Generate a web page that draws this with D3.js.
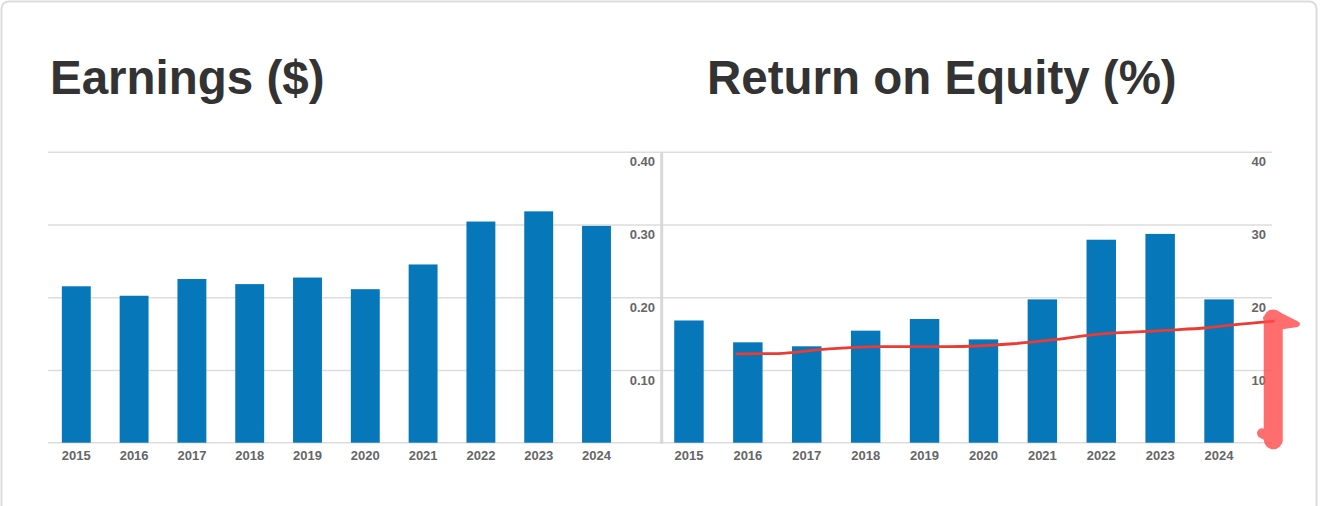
<!DOCTYPE html>
<html>
<head>
<meta charset="utf-8">
<script src="https://cdn.jsdelivr.net/npm/d3@7"></script>
<style>
  body { margin: 0; background: #fff; }
  svg { display: block; font-family: 'Liberation Sans', Arial, sans-serif; }
</style>
</head>
<body>
<svg width="1320" height="506"></svg>
<script>
const years = ['2015', '2016', '2017', '2018', '2019', '2020', '2021', '2022', '2023', '2024'];
const earnings = [0.215, 0.202, 0.225, 0.218, 0.227, 0.211, 0.245, 0.304, 0.318, 0.298];
const roe = [16.8, 13.8, 13.25, 15.4, 17.0, 14.2, 19.7, 27.9, 28.7, 19.7];

const earningsTicks = [0.1, 0.2, 0.3, 0.4];
const roeTicks = [10, 20, 30, 40];

// red trend line drawn over the ROE bars (x in years, y in %)
const trendYears = [2015.81, 2016.51, 2017.22, 2018.24, 2019.38, 2020.5, 2021.24, 2021.92, 2023.11, 2023.79, 2024.24, 2024.92];
const trendValues = [12.2, 12.25, 12.8, 13.2, 13.2, 13.6, 14.2, 14.9, 15.45, 15.8, 16.2, 16.7];

// hand-drawn arrow marker at the right edge
const arrowShaftYears = [2024.92, 2024.92];
const arrowShaftValues = [0.4, 17.0];
const arrowHeadYears = [2024.80, 2024.95, 2025.32, 2024.99, 2024.87];
const arrowHeadValues = [17.1, 17.8, 16.3, 15.9, 16.3];
const arrowFootYears = [2024.73, 2024.99];
const arrowFootValues = [1.3, 0.25];

const svg = d3.select('svg');
const barColor = '#0677b8';
const gridColor = '#dddddd';
const labelColor = '#666666';
const plotTop = 151.7;
const plotBottom = 442.7;

svg.append('rect')
    .attr('x', 1.5)
    .attr('y', 1.5)
    .attr('width', 1315)
    .attr('height', 540)
    .attr('rx', 7)
    .attr('fill', '#fff')
    .attr('stroke', '#dcdcdc')
    .attr('stroke-width', 2);

svg.append('text')
    .attr('x', 50)
    .attr('y', 94)
    .attr('font-size', 47.5)
    .attr('font-weight', 'bold')
    .attr('fill', '#333')
    .text('Earnings ($)');

svg.append('text')
    .attr('x', 707)
    .attr('y', 94)
    .attr('font-size', 47.5)
    .attr('font-weight', 'bold')
    .attr('fill', '#333')
    .text('Return on Equity (%)');

function styleYAxis(g) {
  g.select('.domain').remove();
  g.selectAll('.tick line')
      .attr('stroke', gridColor)
      .attr('stroke-width', 1.5);
  g.selectAll('.tick text')
      .attr('x', -6)
      .attr('dy', '1.1em')
      .attr('text-anchor', 'end')
      .attr('font-size', 13)
      .attr('font-weight', 'bold')
      .attr('fill', labelColor);
}

function styleXAxis(g) {
  g.select('.domain').remove();
  g.selectAll('.tick text')
      .attr('font-size', 13)
      .attr('font-weight', 'bold')
      .attr('fill', labelColor);
}

// left chart
const xL = d3.scaleBand()
    .domain(years)
    .range([47.4, 625.4])
    .paddingInner(0.5)
    .paddingOuter(0.25);
const yL = d3.scaleLinear()
    .domain([0, 0.4])
    .range([plotBottom, plotTop]);

svg.append('g')
    .attr('transform', 'translate(661, 0)')
    .call(d3.axisLeft(yL).tickValues(earningsTicks).tickSize(613).tickFormat(d3.format('.2f')))
    .call(styleYAxis);

// right chart
const xR = d3.scaleBand()
    .domain(years)
    .range([659.5, 1248.5])
    .paddingInner(0.5)
    .paddingOuter(0.25);
const yR = d3.scaleLinear()
    .domain([0, 40])
    .range([plotBottom, plotTop]);

svg.append('g')
    .attr('transform', 'translate(1272, 0)')
    .call(d3.axisLeft(yR).tickValues(roeTicks).tickSize(609).tickFormat(d3.format('d')))
    .call(styleYAxis);

// zero line and divider
svg.append('line')
    .attr('x1', 48)
    .attr('x2', 1272)
    .attr('y1', yL(0))
    .attr('y2', yL(0))
    .attr('stroke', gridColor)
    .attr('stroke-width', 1.5);

svg.append('line')
    .attr('x1', 661.7)
    .attr('x2', 661.7)
    .attr('y1', yL(0.4))
    .attr('y2', yL(0) + 1)
    .attr('stroke', '#d8d8d8')
    .attr('stroke-width', 3);

svg.append('g')
    .selectAll('rect')
    .data(years)
    .join('rect')
    .attr('x', d => xL(d))
    .attr('width', xL.bandwidth())
    .attr('y', (d, i) => yL(earnings[i]))
    .attr('height', (d, i) => yL(0) - yL(earnings[i]))
    .attr('fill', barColor);

svg.append('g')
    .selectAll('rect')
    .data(years)
    .join('rect')
    .attr('x', d => xR(d))
    .attr('width', xR.bandwidth())
    .attr('y', (d, i) => yR(roe[i]))
    .attr('height', (d, i) => yR(0) - yR(roe[i]))
    .attr('fill', barColor);

svg.append('g')
    .attr('transform', `translate(0, ${plotBottom})`)
    .call(d3.axisBottom(xL).tickSize(0).tickPadding(7.6))
    .call(styleXAxis);

svg.append('g')
    .attr('transform', `translate(0, ${plotBottom})`)
    .call(d3.axisBottom(xR).tickSize(0).tickPadding(7.6))
    .call(styleXAxis);

// trend line and arrow, positioned in year units
const yearX = d3.scaleLinear()
    .domain([2015, 2024])
    .range([xR('2015') + xR.bandwidth() / 2, xR('2024') + xR.bandwidth() / 2]);

const line = d3.line()
    .x(d => yearX(d[0]))
    .y(d => yR(d[1]))
    .curve(d3.curveMonotoneX);

svg.append('path')
    .attr('d', line(d3.zip(trendYears, trendValues)))
    .attr('fill', 'none')
    .attr('stroke', '#ea3b35')
    .attr('stroke-width', 2.8)
    .attr('stroke-linecap', 'round');

const arrow = svg.append('g')
    .attr('opacity', 0.8);

arrow.append('path')
    .attr('d', d3.line().x(d => yearX(d[0])).y(d => yR(d[1]))(d3.zip(arrowShaftYears, arrowShaftValues)))
    .attr('stroke', '#ff4a4a')
    .attr('stroke-width', 19)
    .attr('stroke-linecap', 'round');

arrow.append('path')
    .attr('d', d3.line().x(d => yearX(d[0])).y(d => yR(d[1])).curve(d3.curveLinearClosed)(d3.zip(arrowHeadYears, arrowHeadValues)))
    .attr('fill', '#ff4a4a')
    .attr('stroke', '#ff4a4a')
    .attr('stroke-width', 6)
    .attr('stroke-linejoin', 'round');

arrow.append('path')
    .attr('d', d3.line().x(d => yearX(d[0])).y(d => yR(d[1]))(d3.zip(arrowFootYears, arrowFootValues)))
    .attr('stroke', '#ff4a4a')
    .attr('stroke-width', 10)
    .attr('stroke-linecap', 'round');
</script>
</body>
</html>
